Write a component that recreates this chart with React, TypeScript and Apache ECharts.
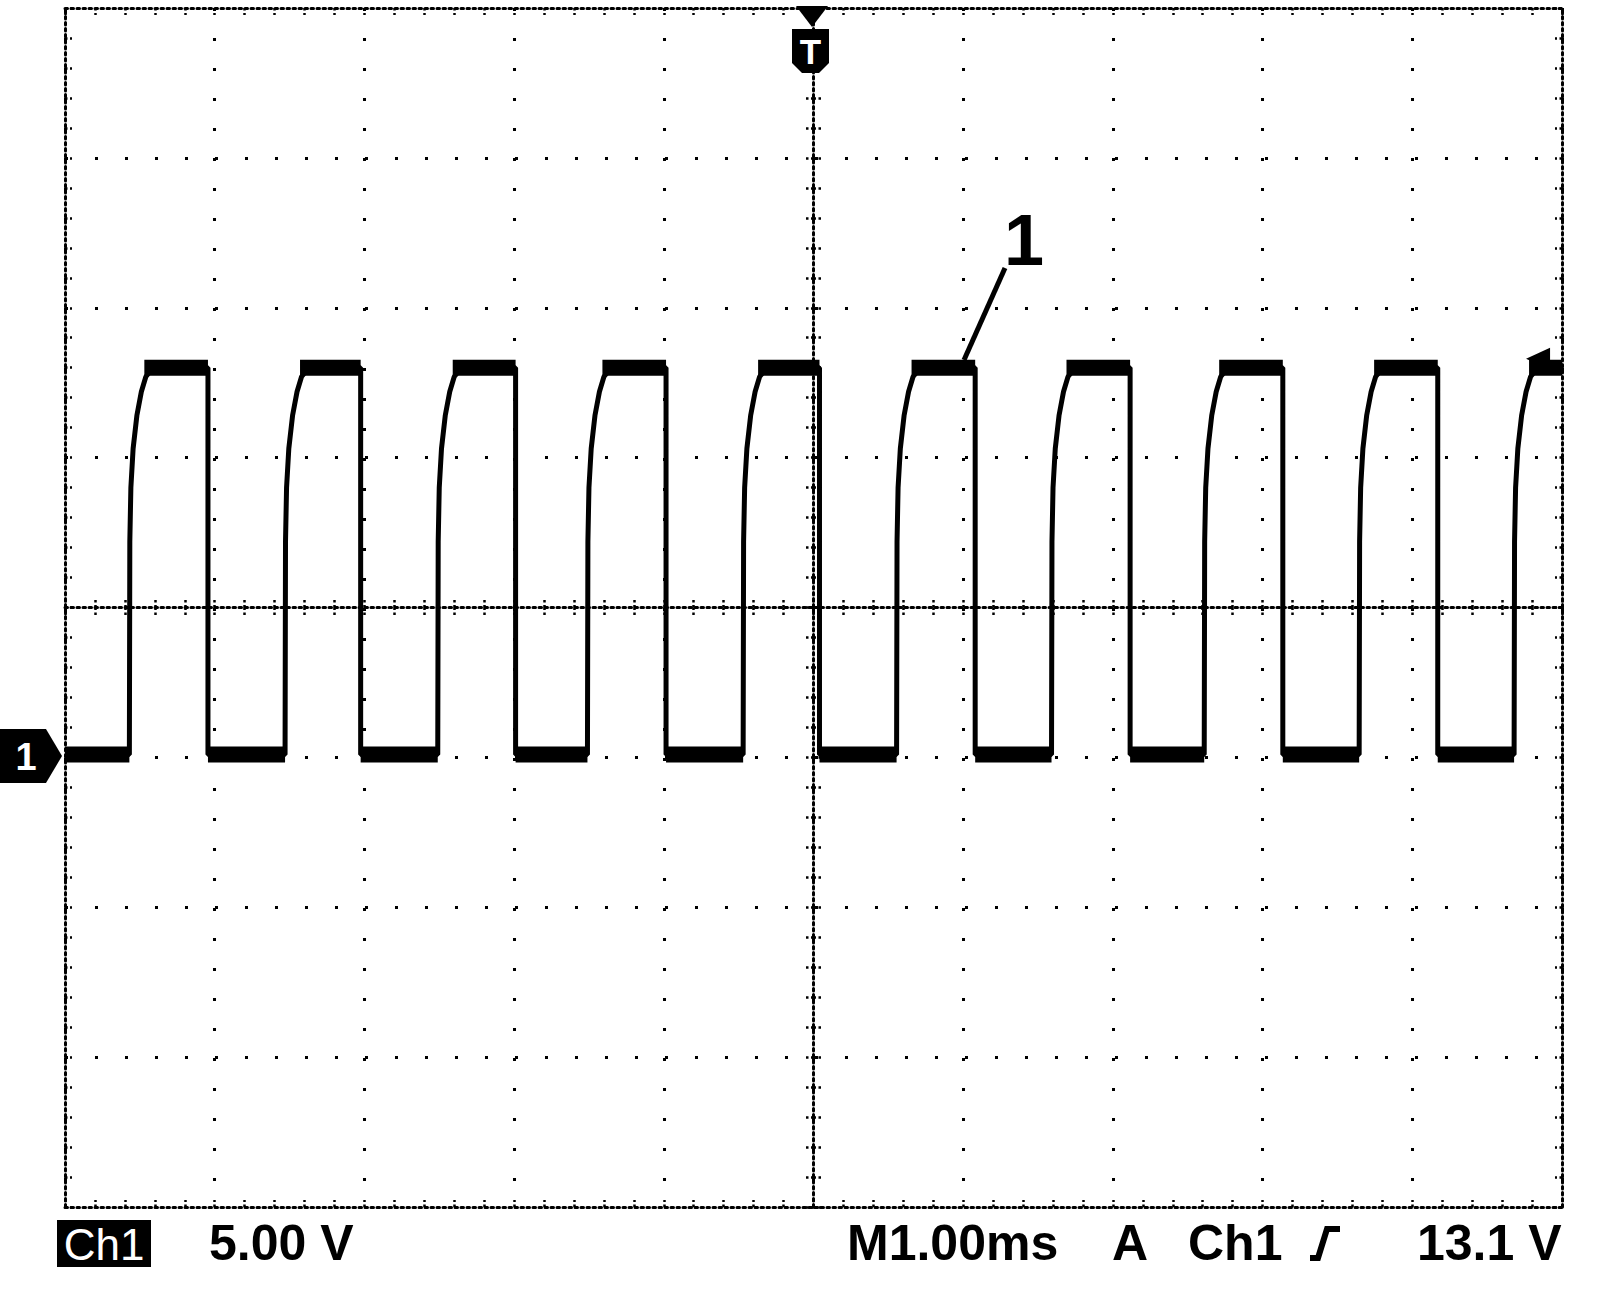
import React, { useEffect, useRef } from "react";
import * as echarts from "echarts";

// ---- axis ranges (oscilloscope graticule: 10 x 8 divisions) ----
const TIME_MIN_MS = -5;
const TIME_MAX_MS = 5;
const TIME_DIV_MS = 1; // M 1.00ms / div
const VOLT_MIN = -15;
const VOLT_MAX = 25;
const VOLT_DIV = 5; // Ch1 5.00 V / div

// ---- waveform ----
const riseStartMs = [-4.57, -3.53, -2.51, -1.51, -0.47, 0.555, 1.59, 2.61, 3.645, 4.68];
const fallMs = [-4.045, -3.025, -1.99, -0.985, 0.04, 1.08, 2.115, 3.135, 4.17];
const lowLevelV = 0.1;
const highLevelV = 13.0;
const riseOffsetMs = [0, 0.003, 0.01, 0.025, 0.05, 0.08, 0.11, 0.15, 0.2];
const riseLevelV = [0.1, 7.2, 9.0, 10.3, 11.4, 12.2, 12.7, 12.95, 13.05];
const plateauStartOffsetMs = 0.1;

// ---- trigger ----
const triggerLevelV = 13.3;
const triggerMarkerMs = 4.84;

// ---- readouts ----
const ch1Label = "Ch1";
const voltsPerDivText = "5.00 V";
const timePerDivText = "M1.00ms";
const triggerModeText = "A";
const triggerSourceText = "Ch1";
const triggerLevelText = "13.1 V";
const traceLabel = "1";

function buildTrace(): [number, number][] {
  const pts: [number, number][] = [[TIME_MIN_MS, lowLevelV]];
  riseStartMs.forEach((r, i) => {
    riseOffsetMs.forEach((dt, k) => pts.push([r + dt, riseLevelV[k]]));
    if (i < fallMs.length) {
      pts.push([fallMs[i], highLevelV]);
      pts.push([fallMs[i], lowLevelV]);
    } else {
      pts.push([TIME_MAX_MS, highLevelV]);
    }
  });
  return pts;
}

function buildBand(): any[] {
  const pts: any[] = [];
  const seg = (a: number, b: number, v: number) => {
    pts.push([a, v], [b, v], [b, "-"]);
  };
  seg(TIME_MIN_MS, riseStartMs[0], lowLevelV);
  riseStartMs.forEach((r, i) => {
    const end = i < fallMs.length ? fallMs[i] : TIME_MAX_MS;
    seg(r + plateauStartOffsetMs, end, highLevelV);
    if (i < fallMs.length) seg(fallMs[i], riseStartMs[i + 1], lowLevelV);
  });
  return pts;
}

const BLACK = "#000";
const GRID = { left: 65, top: 8, width: 1497, height: 1199 };
const FINE_DOTS = [2.5, 3.5];
const GRID_DOTS = [3, 27];
const TICK_DOTS = [2.5, 2.5];

function tickStyle(len: number) {
  return {
    axisTick: { show: true, inside: true, length: len, lineStyle: { color: BLACK, width: 2.5, type: TICK_DOTS } },
    minorTick: { show: true, splitNumber: 5, length: len, lineStyle: { color: BLACK, width: 2.5, type: TICK_DOTS } },
  };
}

function xAxis(position: string, offset: number, line: boolean, split: boolean, tickLen: number) {
  return {
    type: "value",
    min: TIME_MIN_MS,
    max: TIME_MAX_MS,
    interval: TIME_DIV_MS,
    position,
    offset,
    axisLine: { show: line, onZero: false, lineStyle: { color: BLACK, width: 3, type: FINE_DOTS } },
    ...tickStyle(tickLen),
    axisLabel: { show: false },
    splitLine: { show: split, lineStyle: { color: BLACK, width: 3, type: GRID_DOTS } },
    minorSplitLine: { show: false },
  };
}

function yAxis(position: string, offset: number, line: boolean, split: boolean, tickLen: number) {
  return {
    type: "value",
    min: VOLT_MIN,
    max: VOLT_MAX,
    interval: VOLT_DIV,
    position,
    offset,
    axisLine: { show: line, onZero: false, lineStyle: { color: BLACK, width: 3, type: FINE_DOTS } },
    ...tickStyle(tickLen),
    axisLabel: { show: false },
    splitLine: { show: split, lineStyle: { color: BLACK, width: 3, type: GRID_DOTS } },
    minorSplitLine: { show: false },
  };
}

const READOUT_FONT = "bold 50px 'Liberation Sans', Arial, sans-serif";

export default function App() {
  const ref = useRef<HTMLDivElement>(null);

  useEffect(() => {
    if (!ref.current) return;
    const chart = echarts.init(ref.current, undefined, { renderer: "svg" });
    const halfH = GRID.height / 2;
    const halfW = GRID.width / 2;
    const option: any = {
      animation: false,
      backgroundColor: "#fff",
      grid: { ...GRID, containLabel: false, outerBoundsMode: "none" },
      xAxis: [
        xAxis("bottom", 0, true, true, 7),
        xAxis("top", 0, true, false, 7),
        xAxis("bottom", -halfH, true, false, 9),
        xAxis("top", -halfH, false, false, 9),
      ],
      yAxis: [
        yAxis("left", 0, true, true, 7),
        yAxis("right", 0, true, false, 7),
        yAxis("left", -halfW, true, false, 9),
        yAxis("right", -halfW, false, false, 9),
      ],
      series: [
        {
          name: "noise band",
          type: "line",
          xAxisIndex: 0,
          yAxisIndex: 0,
          data: buildBand(),
          showSymbol: false,
          symbol: "none",
          connectNulls: false,
          lineStyle: { color: BLACK, width: 16, cap: "butt" },
          silent: true,
          z: 3,
        },
        {
          name: "Ch1",
          type: "line",
          xAxisIndex: 0,
          yAxisIndex: 0,
          data: buildTrace(),
          showSymbol: false,
          symbol: "none",
          lineStyle: { color: BLACK, width: 5 },
          silent: true,
          z: 4,
          markPoint: {
            symbol: "triangle",
            symbolSize: [22, 24],
            symbolRotate: 90,
            itemStyle: { color: BLACK },
            label: { show: false },
            data: [{ coord: [triggerMarkerMs, triggerLevelV] }],
          },
        },
      ],
      graphic: [
        // ground marker "1"
        {
          type: "polygon",
          z: 100,
          shape: { points: [[0, 729], [46, 729], [62, 756], [46, 783], [0, 783]] },
          style: { fill: BLACK },
        },
        {
          type: "text",
          z: 101,
          x: 26,
          y: 757,
          style: {
            text: "1",
            fill: "#fff",
            font: "bold 38px 'Liberation Sans', Arial, sans-serif",
            textAlign: "center",
            textVerticalAlign: "middle",
          },
        },
        // trigger position marker "T"
        {
          type: "polygon",
          z: 100,
          shape: { points: [[796, 6], [828, 6], [812, 27]] },
          style: { fill: BLACK },
        },
        {
          type: "polygon",
          z: 100,
          shape: { points: [[792, 29], [829, 29], [829, 63], [819, 73], [802, 73], [792, 63]] },
          style: { fill: BLACK },
        },
        {
          type: "text",
          z: 101,
          x: 810.5,
          y: 51,
          style: {
            text: "T",
            fill: "#fff",
            font: "bold 35px 'Liberation Sans', Arial, sans-serif",
            textAlign: "center",
            textVerticalAlign: "middle",
          },
        },
        // label "1" with leader line
        {
          type: "line",
          z: 100,
          shape: { x1: 1005, y1: 268, x2: 964, y2: 360 },
          style: { stroke: BLACK, lineWidth: 5 },
        },
        {
          type: "text",
          z: 100,
          x: 1024,
          y: 240,
          style: {
            text: traceLabel,
            fill: BLACK,
            font: "bold 72px 'Liberation Sans', Arial, sans-serif",
            textAlign: "center",
            textVerticalAlign: "middle",
          },
        },
        // readouts
        {
          type: "rect",
          shape: { x: 57, y: 1220, width: 94, height: 47 },
          style: { fill: BLACK },
        },
        {
          type: "text",
          x: 104,
          y: 1244,
          style: {
            text: ch1Label,
            fill: "#fff",
            font: "44px 'Liberation Sans', Arial, sans-serif",
            textAlign: "center",
            textVerticalAlign: "middle",
          },
        },
        {
          type: "text",
          x: 209,
          y: 1243,
          style: { text: voltsPerDivText, fill: BLACK, font: READOUT_FONT, textAlign: "left", textVerticalAlign: "middle" },
        },
        {
          type: "text",
          x: 847,
          y: 1243,
          style: { text: timePerDivText, fill: BLACK, font: READOUT_FONT, textAlign: "left", textVerticalAlign: "middle" },
        },
        {
          type: "text",
          x: 1112,
          y: 1243,
          style: { text: triggerModeText, fill: BLACK, font: READOUT_FONT, textAlign: "left", textVerticalAlign: "middle" },
        },
        {
          type: "text",
          x: 1188,
          y: 1243,
          style: { text: triggerSourceText, fill: BLACK, font: READOUT_FONT, textAlign: "left", textVerticalAlign: "middle" },
        },
        {
          type: "polyline",
          shape: { points: [[1310, 1258], [1318, 1258], [1327, 1229], [1340, 1229]] },
          style: { stroke: BLACK, lineWidth: 6, fill: "none" },
        },
        {
          type: "text",
          x: 1417,
          y: 1243,
          style: { text: triggerLevelText, fill: BLACK, font: READOUT_FONT, textAlign: "left", textVerticalAlign: "middle" },
        },
      ],
    };
    chart.setOption(option);
    return () => chart.dispose();
  }, []);

  return (
    <div
      ref={ref}
      style={{ position: "absolute", left: 0, top: 0, width: 1600, height: 1290, background: "#fff" }}
    />
  );
}
